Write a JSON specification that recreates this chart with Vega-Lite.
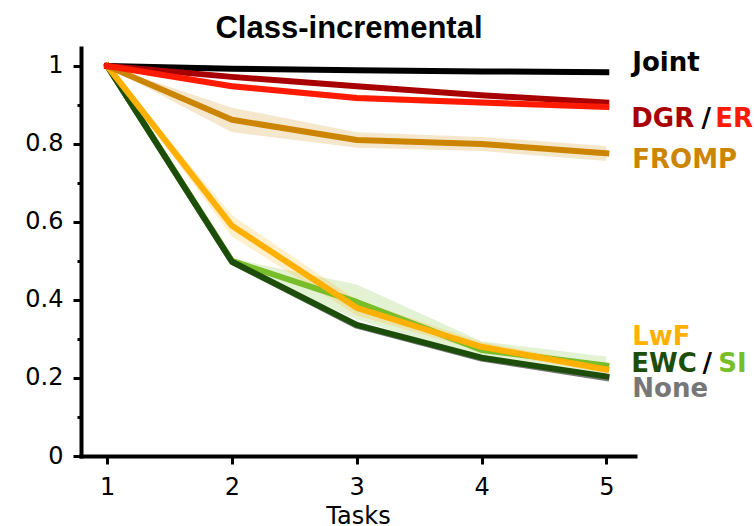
{
  "$schema": "https://vega.github.io/schema/vega-lite/v6.json",
  "width": 554,
  "height": 408,
  "autosize": {"type": "none"},
  "padding": {"left": 81, "top": 48, "right": 119, "bottom": 70},
  "background": "white",
  "config": {"view": {"stroke": null}},
  "title": {
    "text": "Class-incremental",
    "font": "Liberation Sans",
    "fontSize": 31,
    "fontWeight": "bold",
    "color": "black",
    "anchor": "middle",
    "baseline": "alphabetic",
    "offset": -21,
    "dx": -9
  },
  "datasets": {
    "curves": [
      {"m": "None", "t": 1, "acc": 1.0, "lo": 0.998, "hi": 1.0},
      {"m": "None", "t": 2, "acc": 0.498, "lo": 0.492, "hi": 0.504},
      {"m": "None", "t": 3, "acc": 0.334, "lo": 0.326, "hi": 0.342},
      {"m": "None", "t": 4, "acc": 0.25, "lo": 0.243, "hi": 0.257},
      {"m": "None", "t": 5, "acc": 0.2, "lo": 0.193, "hi": 0.207},
      {"m": "SI", "t": 1, "acc": 1.0, "lo": 0.998, "hi": 1.0},
      {"m": "SI", "t": 2, "acc": 0.5, "lo": 0.494, "hi": 0.506},
      {"m": "SI", "t": 3, "acc": 0.395, "lo": 0.35, "hi": 0.44},
      {"m": "SI", "t": 4, "acc": 0.272, "lo": 0.25, "hi": 0.294},
      {"m": "SI", "t": 5, "acc": 0.232, "lo": 0.21, "hi": 0.255},
      {"m": "EWC", "t": 1, "acc": 1.0, "lo": 0.998, "hi": 1.0},
      {"m": "EWC", "t": 2, "acc": 0.498, "lo": 0.494, "hi": 0.502},
      {"m": "EWC", "t": 3, "acc": 0.336, "lo": 0.33, "hi": 0.342},
      {"m": "EWC", "t": 4, "acc": 0.252, "lo": 0.246, "hi": 0.258},
      {"m": "EWC", "t": 5, "acc": 0.204, "lo": 0.198, "hi": 0.21},
      {"m": "LwF", "t": 1, "acc": 1.0, "lo": 0.998, "hi": 1.0},
      {"m": "LwF", "t": 2, "acc": 0.59, "lo": 0.563, "hi": 0.617},
      {"m": "LwF", "t": 3, "acc": 0.38, "lo": 0.36, "hi": 0.4},
      {"m": "LwF", "t": 4, "acc": 0.28, "lo": 0.268, "hi": 0.292},
      {"m": "LwF", "t": 5, "acc": 0.222, "lo": 0.212, "hi": 0.232},
      {"m": "FROMP", "t": 1, "acc": 1.0, "lo": 0.997, "hi": 1.0},
      {"m": "FROMP", "t": 2, "acc": 0.862, "lo": 0.83, "hi": 0.893},
      {"m": "FROMP", "t": 3, "acc": 0.81, "lo": 0.79, "hi": 0.83},
      {"m": "FROMP", "t": 4, "acc": 0.8, "lo": 0.782, "hi": 0.818},
      {"m": "FROMP", "t": 5, "acc": 0.776, "lo": 0.756, "hi": 0.795},
      {"m": "Joint", "t": 1, "acc": 1.0, "lo": 0.999, "hi": 1.0},
      {"m": "Joint", "t": 2, "acc": 0.993, "lo": 0.991, "hi": 0.995},
      {"m": "Joint", "t": 3, "acc": 0.989, "lo": 0.987, "hi": 0.991},
      {"m": "Joint", "t": 4, "acc": 0.986, "lo": 0.984, "hi": 0.988},
      {"m": "Joint", "t": 5, "acc": 0.984, "lo": 0.982, "hi": 0.986},
      {"m": "DGR", "t": 1, "acc": 1.0, "lo": 0.998, "hi": 1.0},
      {"m": "DGR", "t": 2, "acc": 0.972, "lo": 0.966, "hi": 0.978},
      {"m": "DGR", "t": 3, "acc": 0.948, "lo": 0.942, "hi": 0.954},
      {"m": "DGR", "t": 4, "acc": 0.925, "lo": 0.919, "hi": 0.931},
      {"m": "DGR", "t": 5, "acc": 0.906, "lo": 0.9, "hi": 0.912},
      {"m": "ER", "t": 1, "acc": 1.0, "lo": 0.998, "hi": 1.0},
      {"m": "ER", "t": 2, "acc": 0.948, "lo": 0.94, "hi": 0.956},
      {"m": "ER", "t": 3, "acc": 0.918, "lo": 0.91, "hi": 0.926},
      {"m": "ER", "t": 4, "acc": 0.906, "lo": 0.898, "hi": 0.914},
      {"m": "ER", "t": 5, "acc": 0.895, "lo": 0.887, "hi": 0.903}
    ],
    "labels": [
      {"label": "Joint", "m": "Joint", "x": 5.208, "y": 0.987},
      {"label": "DGR", "m": "DGR", "x": 5.2, "y": 0.844},
      {"label": "ER", "m": "ER", "x": 5.874, "y": 0.844},
      {"label": "FROMP", "m": "FROMP", "x": 5.208, "y": 0.738},
      {"label": "LwF", "m": "LwF", "x": 5.208, "y": 0.285},
      {"label": "EWC", "m": "EWC", "x": 5.2, "y": 0.215},
      {"label": "SI", "m": "SI", "x": 5.898, "y": 0.215}
      ,{"label": "None", "m": "None", "x": 5.208, "y": 0.151}
    ],
    "slashes": [
      {"label": "/", "x": 5.763, "y": 0.844},
      {"label": "/", "x": 5.77, "y": 0.215}
    ]
  },
  "layer": [
    {
      "data": {"name": "curves"},
      "mark": {"type": "area", "opacity": 0.2},
      "encoding": {
        "x": {"field": "t", "type": "quantitative"},
        "y": {"field": "lo", "type": "quantitative"},
        "y2": {"field": "hi"},
        "color": {"field": "m", "type": "nominal", "legend": null}
      }
    },
    {
      "data": {"name": "curves"},
      "mark": {"type": "line", "strokeWidth": 6, "strokeCap": "square", "strokeJoin": "round"},
      "encoding": {
        "x": {
          "field": "t",
          "type": "quantitative",
          "scale": {"domain": [0.79, 5.23], "nice": false, "zero": false},
          "axis": {
            "values": [1, 2, 3, 4, 5],
            "format": "d",
            "title": "Tasks",
            "grid": false,
            "labelFont": "DejaVu Sans",
            "labelFontSize": 24,
            "labelColor": "black",
            "labelPadding": 11,
            "titleFont": "DejaVu Sans",
            "titleFontSize": 24,
            "titleFontWeight": "normal",
            "titleColor": "black",
            "titlePadding": 5,
            "domainColor": "black",
            "domainWidth": 4,
            "domainCap": "square",
            "tickColor": "black",
            "tickWidth": 3,
            "tickSize": 8
          }
        },
        "y": {
          "field": "acc",
          "type": "quantitative",
          "scale": {"domain": [0, 1.046], "nice": false, "zero": false},
          "axis": {
            "values": [0, 0.1, 0.2, 0.3, 0.4, 0.5, 0.6, 0.7, 0.8, 0.9, 1.0],
            "title": null,
            "grid": false,
            "labelExpr": "(round(datum.value*10)%2==1) ? '' : toString(round(datum.value*10)/10)",
            "labelFont": "DejaVu Sans",
            "labelFontSize": 24,
            "labelColor": "black",
            "labelPadding": 10,
            "domainColor": "black",
            "domainWidth": 4,
            "domainCap": "square",
            "tickColor": "black",
            "tickWidth": 3,
            "tickSize": {"condition": {"test": "round(datum.value*10)%2==1", "value": 4}, "value": 8}
          }
        },
        "color": {
          "field": "m",
          "type": "nominal",
          "legend": null,
          "scale": {
            "domain": ["None", "SI", "EWC", "LwF", "FROMP", "Joint", "DGR", "ER"],
            "range": ["#777777", "#78bd2a", "#1d4d0b", "#ffb000", "#cc8500", "#000000", "#a80000", "#ff1a00"]
          }
        }
      }
    },
    {
      "data": {"name": "labels"},
      "mark": {"type": "text", "font": "DejaVu Sans", "fontWeight": "bold", "fontSize": 26, "align": "left", "baseline": "alphabetic"},
      "encoding": {
        "x": {"field": "x", "type": "quantitative"},
        "y": {"field": "y", "type": "quantitative"},
        "text": {"field": "label"},
        "color": {"field": "m", "type": "nominal", "legend": null}
      }
    },
    {
      "data": {"name": "slashes"},
      "mark": {"type": "text", "font": "DejaVu Sans", "fontWeight": "bold", "fontSize": 26, "align": "left", "baseline": "alphabetic", "color": "black"},
      "encoding": {
        "x": {"field": "x", "type": "quantitative"},
        "y": {"field": "y", "type": "quantitative"},
        "text": {"field": "label"}
      }
    }
  ]
}
